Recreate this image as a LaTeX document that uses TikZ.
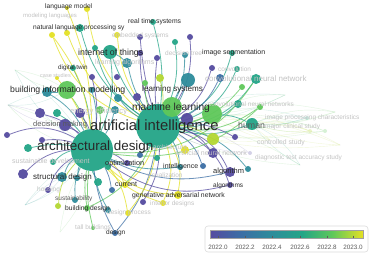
\documentclass[tikz,border=0pt]{standalone}
\usepackage{fontspec}
\setmainfont{Liberation Sans}
\usetikzlibrary{backgrounds}
\definecolor{c0}{RGB}{85,75,160}
\definecolor{c1}{RGB}{60,110,165}
\definecolor{c2}{RGB}{45,140,155}
\definecolor{c3}{RGB}{35,165,135}
\definecolor{c4}{RGB}{95,200,90}
\definecolor{c45}{RGB}{180,215,50}
\definecolor{c5}{RGB}{228,225,35}
\definecolor{labdark}{RGB}{40,40,40}
\definecolor{labmid}{RGB}{90,90,90}
\definecolor{labfaint}{RGB}{195,195,195}
\definecolor{boxline}{RGB}{220,220,220}
\definecolor{barline}{RGB}{160,160,160}
\pgfdeclarehorizontalshading{vir}{100bp}{color(0bp)=(c0); color(25bp)=(c0); color(35bp)=(c1); color(45bp)=(c2); color(55bp)=(c3); color(65bp)=(c4); color(75bp)=(c5); color(100bp)=(c5)}
\newcommand\vnode[5]{\node[dot=#4, fill=#5] (#1) at (#2,#3) {};}
\newcommand\fs[1]{\fontsize{#1}{#1}\selectfont}
\tikzset{
  dot/.style={circle, inner sep=0pt, minimum size={2*#1pt}, fill opacity=0.95},
  lnk/.style={draw=#1, line width=0.8pt, draw opacity=0.75},
  flnk/.style={draw=#1, line width=0.4pt, draw opacity=0.18},
  lab/.style={text=labdark, inner sep=0pt, anchor=west},
  mlab/.style={text=labmid, inner sep=0pt, anchor=west},
  flab/.style={text=labfaint, inner sep=0pt, anchor=west},
  tick/.style={draw=labmid, line width=0.5pt},
}
\begin{document}
\begin{tikzpicture}[x=1pt,y=-1pt]
\useasboundingbox (0,0) rectangle (374,256);
% ---------- nodes ----------
\vnode{ai}{158}{126}{22}{c3}
\vnode{ad}{92}{150}{21}{c3}
\vnode{ml}{172}{107}{10}{c4}
\vnode{ml2}{212}{114}{10}{c4}
\vnode{iot}{110}{52}{7}{c3}
\vnode{bim}{67}{90}{9}{c4}
\vnode{ls}{188}{80}{7}{c2}
\vnode{la}{127}{63}{5}{c2}
\vnode{hum}{252}{124}{6}{c3}
\vnode{dm}{65}{125}{6}{c0}
\vnode{sd}{62}{177}{5}{c2}
\vnode{sdp}{23}{174}{5}{c0}
\vnode{ee}{80}{113}{5}{c0}
\vnode{ee2}{100}{110}{4}{c4}
\vnode{alg}{230}{172}{5}{c0}
\vnode{alg2}{230}{185}{3}{c0}
\vnode{nn}{256}{79}{5}{c3}
\vnode{gyell}{213}{139}{6}{c45}
\vnode{ann}{213}{153}{5}{c0}
\vnode{aip}{187}{119}{6}{c0}
\vnode{lm}{87}{9}{3}{c5}
\vnode{lm2}{67}{8}{2}{c5}
\vnode{nlp}{52}{35}{3}{c5}
\vnode{nlp2}{67}{33}{3}{c5}
\vnode{es}{117}{35}{3}{c5}
\vnode{rts}{153}{22}{3}{c3}
\vnode{tw}{80}{28}{4}{c3}
\vnode{p1}{140}{37}{3}{c0}
\vnode{p2}{175}{42}{3}{c3}
\vnode{p3}{157}{58}{3}{c0}
\vnode{p4}{140}{53}{3}{c0}
\vnode{t1}{95}{48}{3}{c3}
\vnode{p5}{117}{77}{3}{c0}
\vnode{p6}{92}{77}{3}{c0}
\vnode{dt}{73}{68}{3}{c3}
\vnode{cs}{57}{78}{2}{c5}
\vnode{g1}{145}{83}{3}{c4}
\vnode{yg}{160}{78}{4}{c45}
\vnode{p7}{137}{97}{4}{c0}
\vnode{t2}{118}{98}{4}{c2}
\vnode{t3}{92}{90}{3}{c2}
\vnode{bim2}{47}{92}{5}{c2}
\vnode{p8}{40}{113}{5}{c0}
\vnode{t4}{57}{113}{4}{c3}
\vnode{t5}{115}{110}{4}{c2}
\vnode{pl}{7}{135}{3}{c0}
\vnode{p9}{42}{140}{3}{c0}
\vnode{t6}{28}{148}{4}{c3}
\vnode{g2}{53}{162}{3}{c3}
\vnode{t7}{77}{178}{3}{c2}
\vnode{t8}{98}{182}{4}{c3}
\vnode{hs}{48}{190}{3}{c0}
\vnode{su}{75}{200}{3}{c2}
\vnode{su2}{58}{206}{3}{c45}
\vnode{bd}{87}{208}{3}{c4}
\vnode{bd2}{108}{210}{3}{c2}
\vnode{dp}{128}{213}{3}{c5}
\vnode{tb}{93}{228}{2}{c4}
\vnode{ds}{115}{233}{3}{c1}
\vnode{b1}{112}{190}{3}{c1}
\vnode{cu}{125}{185}{3}{c5}
\vnode{p10}{143}{202}{3}{c0}
\vnode{id}{163}{203}{3}{c5}
\vnode{gan}{178}{195}{4}{c5}
\vnode{int}{180}{167}{3}{c2}
\vnode{t9}{140}{155}{3}{c1}
\vnode{t10}{157}{158}{3}{c3}
\vnode{op}{127}{163}{3}{c0}
\vnode{t11}{108}{167}{3}{c3}
\vnode{ar}{185}{150}{4}{c5}
\vnode{p11}{235}{137}{3}{c0}
\vnode{b2}{203}{166}{3}{c1}
\vnode{t12}{248}{169}{3}{c2}
\vnode{pr1}{190}{37}{3}{c0}
\vnode{t13}{185}{55}{3}{c2}
\vnode{is}{232}{53}{3}{c3}
\vnode{p12}{212}{68}{3}{c0}
\vnode{cv}{237}{69}{3}{c3}
\vnode{b3}{220}{78}{4}{c1}
\vnode{g3}{242}{87}{3}{c4}
\vnode{t14}{238}{104}{4}{c3}
\vnode{g4}{260}{107}{3}{c4}
\node[dot=2, fill=c3, fill opacity=0.25] (f1) at (307,118) {};
\node[dot=2, fill=c4, fill opacity=0.25] (f2) at (325,131) {};
\node[dot=2, fill=c45, fill opacity=0.25] (f3) at (310,131) {};
\node[dot=2, fill=c0, fill opacity=0.25] (f4) at (250,153) {};
\coordinate (w1) at (335,112);
\coordinate (w2) at (340,145);
\coordinate (w3) at (300,165);
\coordinate (w4) at (285,95);
\coordinate (w5) at (15,70);
\coordinate (w6) at (8,105);
\coordinate (w7) at (25,205);
\coordinate (w8) at (60,232);
\coordinate (w9) at (270,140);
% ---------- edges ----------
\begin{scope}[on background layer]
\fill[white] (0,0) rectangle (374,256);
\foreach \s/\t/\c in {ai/f1/c3, ai/f2/c4, ai/f3/c45, ai/f4/c0, hum/f1/c3, hum/f2/c4, hum/f3/c45,
  ai/w1/c4, ai/w2/c45, ai/w3/c4, ai/w4/c3, ai/w9/c45, hum/w1/c4, hum/w2/c45, hum/w3/c3, ml2/w4/c4, ml2/w9/c45,
  ad/w5/c3, ad/w6/c4, ad/w7/c3, ad/w8/c4, bim/w5/c4, bim/w6/c3, dm/w6/c0, sd/w7/c2}
  {\draw[flnk=\c] (\s) to[bend left=15] (\t); \draw[flnk=\c] (\s) to[bend right=10] (\t);}
\foreach \s/\t/\b/\c in {
ai/lm/20/c5, ai/nlp/25/c5, ai/nlp2/20/c5, ai/es/15/c5, ai/rts/-10/c3, ai/tw/20/c3,
ai/p1/5/c0, ai/p2/-15/c3, ai/p3/5/c0, ai/p4/10/c0, ai/t1/20/c3, ai/iot/10/c3, ai/la/10/c2,
ai/pr1/-20/c0, ai/t13/-15/c2, ai/is/-25/c3, ai/p12/-20/c0, ai/cv/-25/c3, ai/b3/-20/c1,
ai/nn/-25/c3, ai/g3/-20/c4, ai/t14/-20/c3, ai/g4/-20/c4, ai/hum/-15/c3, ai/ml2/-10/c4,
ai/ls/-10/c2, ai/gyell/15/c45, ai/p11/15/c0, ai/ann/20/c0, ai/alg/25/c0, ai/alg2/25/c0,
ai/b2/20/c1, ai/t12/20/c2, ai/int/15/c2, ai/gan/20/c5, ai/id/20/c5, ai/ar/10/c5,
ai/p10/15/c0, ai/cu/15/c5, ai/t9/10/c1, ai/ds/15/c1, ai/dp/15/c5, ai/bd/20/c4,
ai/yg/-10/c45, ai/g1/10/c4, ai/p7/10/c0, ai/t2/10/c2, ai/aip/-10/c0, ai/ml/-10/c4,
ad/pl/-25/c0, ad/p8/-15/c0, ad/t4/-10/c3, ad/bim/-10/c4, ad/bim2/-15/c2, ad/dm/-10/c0,
ad/p9/-10/c0, ad/t6/-10/c3, ad/g2/-15/c3, ad/sdp/-20/c0, ad/sd/-15/c2, ad/t7/-10/c2,
ad/t8/-10/c3, ad/hs/-20/c0, ad/su/-15/c2, ad/su2/-20/c45, ad/bd/-10/c4, ad/bd2/-10/c2,
ad/dp/15/c5, ad/tb/-10/c4, ad/ds/-10/c1, ad/b1/10/c1, ad/cu/15/c5, ad/op/10/c0,
ad/t11/10/c3, ad/alg/-20/c1, ad/alg2/-25/c0, ad/gan/-20/c5, ad/id/-15/c5, ad/int/-15/c2,
ad/ee/-10/c0, ad/ee2/-10/c4, ad/t3/-10/c2, ad/p6/-10/c0, ad/dt/-10/c3, ad/cs/-10/c5,
ad/nlp/-15/c5, ad/lm2/-10/c5, ad/iot/-15/c3, ad/nn/-30/c4, ad/g4/-25/c4, ad/t5/-10/c2,
iot/la/10/c2, bim/bim2/10/c2, ml/ls/10/c2, ml2/hum/10/c3}
  {\draw[lnk=\c] (\s) to[bend left=\b] (\t);}
\end{scope}
% ---------- labels ----------
\node[flab, font=\fs{6}] (l1) at (23,16) {modeling languages};
\node[lab, font=\fs{6.6}] (l2) at (45,7) {language model};
\node[flab, font=\fs{6.5}] (l3) at (112,36) {embedded systems};
\node[lab, font=\fs{6.6}] (l4) at (33,28) {natural language processing sy};
\node[lab, font=\fs{6.8}] (l5) at (128,22) {real time systems};
\node[flab, font=\fs{7}] (l6) at (95,63) {learning algorithms};
\node[lab, font=\fs{8.8}] (l7) at (78,53) {internet of things};
\node[flab, font=\fs{6.5}] (l8) at (165,53) {decision tree};
\node[lab, font=\fs{7}] (l9) at (202,53) {image segmentation};
\node[flab, font=\fs{6.5}] (l10) at (218,69) {convolution};
\node[flab, font=\fs{8}] (l11) at (205,79) {convolutional neural network};
\node[flab, font=\fs{5.5}] (l12) at (40,76) {case studies};
\node[lab, font=\fs{6.3}] (l13) at (58,68) {digital twin};
\node[lab, font=\fs{8.7}] (l14) at (10,90) {building information modelling};
\node[lab, font=\fs{8.1}] (l15) at (142,89) {learning systems};
\node[flab, font=\fs{6.5}] (l16) at (208,104) {convolutional neural networks};
\node[flab, font=\fs{6.5}] (l17) at (265,118) {image processing characteristics};
\node[flab, font=\fs{6.5}] (l18) at (265,127) {major clinical study};
\node[flab, font=\fs{6.8}] (l19) at (257,143) {controlled study};
\node[flab, font=\fs{6.5}] (l20) at (255,158) {diagnostic test accuracy study};
\node[flab, font=\fs{7.6}] (l21) at (70,112) {energy efficiency};
\node[lab, font=\fs{10.2}] (l22) at (132,108) {machine learning};
\node[mlab, font=\fs{8.8}] (l23) at (238,125) {human};
\node[mlab, font=\fs{7.5}] (l24) at (33,125) {decision making};
\node[lab, font=\fs{14.8}] (l25) at (90,127) {artificial intelligence};
\node[flab, font=\fs{6.5}] (l26) at (153,147) {architecture};
\node[flab, font=\fs{7}] (l27) at (175,153) {artificial neural network};
\node[lab, font=\fs{13.4}] (l28) at (37,147) {architectural design};
\node[flab, font=\fs{7}] (l29) at (12,162) {sustainable development};
\node[lab, font=\fs{7.3}] (l30) at (105,164) {optimization};
\node[lab, font=\fs{7}] (l31) at (163,167) {intelligence};
\node[flab, font=\fs{6.5}] (l32) at (147,175) {visualization};
\node[lab, font=\fs{8}] (l33) at (33,177) {structural design};
\node[lab, font=\fs{7}] (l34) at (115,184) {current};
\node[flab, font=\fs{6.5}] (l35) at (37,190) {housing};
\node[lab, font=\fs{6.8}] (l36) at (132,196) {generative adversarial network};
\node[mlab, font=\fs{6.5}] (l37) at (55,199) {sustainability};
\node[flab, font=\fs{6.5}] (l38) at (150,204) {interior designs};
\node[lab, font=\fs{6.7}] (l39) at (65,209) {building design};
\node[flab, font=\fs{6.5}] (l40) at (107,213) {design process};
\node[flab, font=\fs{6.5}] (l41) at (75,228) {tall buildings};
\node[lab, font=\fs{6.5}] (l42) at (106,233) {design};
\node[lab, font=\fs{7.5}] (l43) at (213,172) {algorithm};
\node[lab, font=\fs{6.5}] (l44) at (213,186) {algorithms};
% ---------- colour bar ----------
\node[draw=boxline, fill=white, rounded corners=3pt, line width=0.6pt,
  minimum width=163pt, minimum height=26pt, inner sep=0pt] (box) at (286.5,239) {};
\shade[shading=vir] (210,230) rectangle (363,238);
\draw[draw=barline, line width=0.4pt] (210,230) rectangle (363,238);
\foreach \x/\v in {218/2022.0, 245/2022.2, 272/2022.4, 300/2022.6, 327/2022.8, 353/2023.0}
  {\draw[tick] (\x,235.5) -- (\x,238);
   \node[text=labmid, inner sep=0pt, font=\fs{6.3}] at (\x,247) {\v};}
\end{tikzpicture}
\end{document}
